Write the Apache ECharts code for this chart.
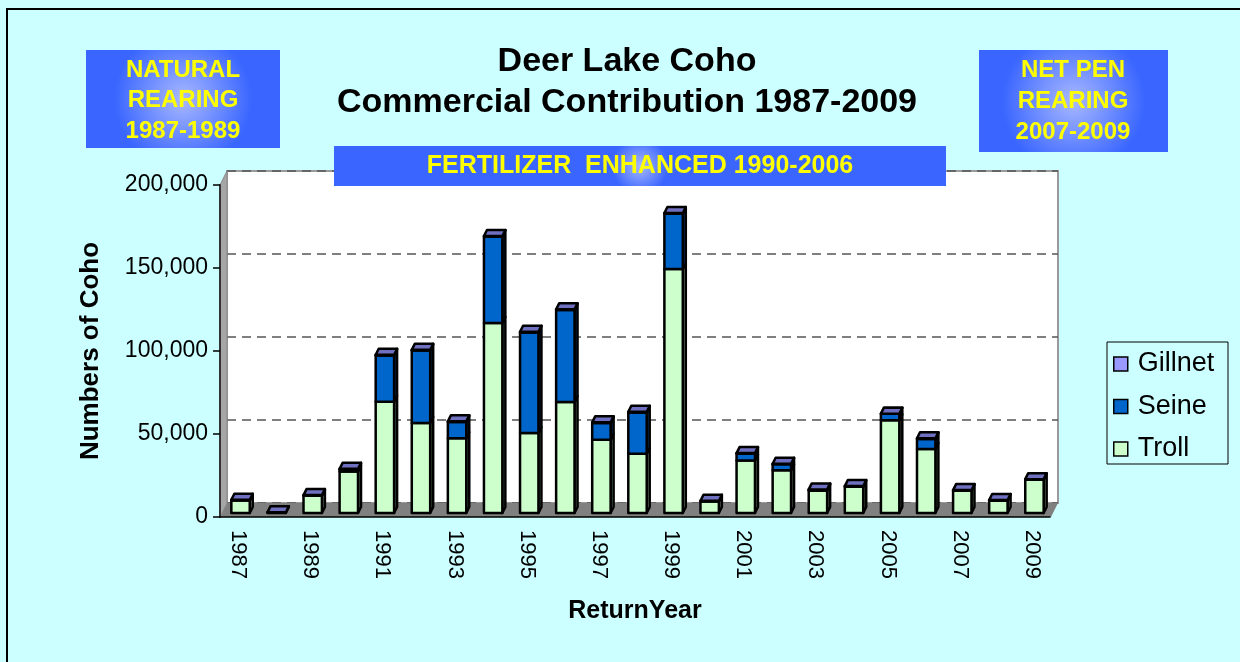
<!DOCTYPE html>
<html>
<head>
<meta charset="utf-8">
<style>
  html, body { margin: 0; padding: 0; background: #ccffff; }
  #container { width: 1240px; height: 662px; }
</style>
<script src="https://cdn.jsdelivr.net/npm/echarts@6/dist/echarts.min.js"></script>
</head>
<body>
<div id="container"></div>
<script>
var dom = document.getElementById('container');
var myChart = echarts.init(dom, null, { renderer: 'canvas' });

// data
var years = ['1987', '1988', '1989', '1990', '1991', '1992', '1993', '1994', '1995', '1996', '1997', '1998',
  '1999', '2000', '2001', '2002', '2003', '2004', '2005', '2006', '2007', '2008', '2009'];
var troll = [7600, 0, 10400, 25000, 67000, 54200, 45000, 114500, 48200, 66900, 44200, 35700,
  147000, 7000, 31700, 25700, 13400, 15800, 55800, 38600, 13400, 7400, 20000];
var seine = [0, 0, 0, 1200, 27900, 43700, 9800, 52000, 60600, 55400, 10000, 24900,
  33300, 0, 4000, 3600, 400, 0, 4000, 6000, 0, 0, 0];
var gillnet = [400, 400, 400, 400, 400, 400, 400, 400, 400, 400, 400, 400,
  400, 400, 400, 400, 400, 400, 0, 400, 400, 400, 400];
var yTicks = [0, 50000, 100000, 150000, 200000];

var seriesNames = ['Troll', 'Seine', 'Gillnet'];
var faceColors = ['#ccffcc', '#0066cc', '#9999ff'];
var sideColors = ['#7a997a', '#003d7a', '#5c5c99'];
var topColors = ['#a3cca3', '#00509f', '#7070c0'];
var stacks = [troll, seine, gillnet];

// 3d depth of the bars
var DX = 3, DY = -6;

function makeRender(k) {
  return function (params, api) {
    var i = params.dataIndex;
    var base = 0;
    for (var j = 0; j < k; j++) base += stacks[j][i];
    var v = stacks[k][i];
    var top = base + v;
    var above = 0;
    for (var j2 = k + 1; j2 < stacks.length; j2++) above += stacks[j2][i];
    var p0 = api.coord([i, base]);
    var p1 = api.coord([i, top]);
    var bw = api.size([1, 0])[0] * 0.51;
    var x0 = p0[0] - bw / 2, x1 = x0 + bw;
    var y0 = p0[1], y1 = p1[1];
    var st = { stroke: '#000', lineWidth: 2.5, lineJoin: 'round' };
    var kids = [];
    if (v > 0) {
      kids.push({
        type: 'polygon',
        shape: { points: [[x1, y0], [x1 + DX, y0 + DY], [x1 + DX, y1 + DY], [x1, y1]] },
        style: Object.assign({ fill: sideColors[k] }, st)
      });
      kids.push({
        type: 'rect',
        shape: { x: x0, y: y1, width: bw, height: y0 - y1 },
        style: Object.assign({ fill: faceColors[k] }, st)
      });
    }
    // top face on the highest segment
    if (above === 0 && (v > 0 || k === stacks.length - 1)) {
      kids.push({
        type: 'polygon',
        shape: { points: [[x0, y1], [x0 + DX, y1 + DY], [x1 + DX, y1 + DY], [x1, y1]] },
        style: Object.assign({ fill: topColors[k] }, st)
      });
    }
    return { type: 'group', children: kids };
  };
}

var series = [];
for (var k = 0; k < 3; k++) {
  series.push({
    type: 'custom',
    name: seriesNames[k],
    xAxisIndex: 0,
    yAxisIndex: 0,
    z: 5,
    clip: false,
    itemStyle: { color: faceColors[k] },
    renderItem: makeRender(k),
    data: stacks[k].map(function (v, i) { return [i, v]; })
  });
}
// empty series so the front axes and back wall get drawn
series.push({ type: 'bar', xAxisIndex: 1, yAxisIndex: 1, data: [], silent: true });
series.push({ type: 'line', xAxisIndex: 2, yAxisIndex: 2, data: [], silent: true });

function boxFill() {
  return {
    type: 'radial', x: 0.5, y: 0.5, r: 0.7,
    colorStops: [{ offset: 0, color: '#a8b8ff' }, { offset: 1, color: '#3a66ff' }]
  };
}
var FONT = '"Liberation Sans", Arial, sans-serif';
var boxText = { fill: '#ffff00', font: 'bold 24px ' + FONT, textAlign: 'center', textVerticalAlign: 'middle' };

option = {
  backgroundColor: '#ccffff',
  animation: false,
  grid: [
    // bars
    { left: 222.5, right: 187.5, top: 181, bottom: 149, show: false },
    // front axes
    { left: 220, right: 190, top: 185, bottom: 145, show: false },
    // back wall
    { left: 227, right: 182, top: 171, bottom: 159, show: true, backgroundColor: '#ffffff', borderColor: '#9a9a9a', borderWidth: 2, z: 0 }
  ],
  xAxis: [
    { gridIndex: 0, type: 'category', data: years, show: false },
    {
      gridIndex: 1, type: 'category', data: years, boundaryGap: true, z: 6,
      axisLine: { lineStyle: { color: '#000', width: 1.5 } },
      axisTick: { interval: 0, length: 7, lineStyle: { color: '#000', width: 1.5 } },
      axisLabel: { interval: 1, rotate: -90, margin: 13, fontSize: 22, color: '#000', fontFamily: FONT },
      name: 'ReturnYear', nameLocation: 'middle', nameGap: 82,
      nameTextStyle: { fontSize: 25, fontWeight: 'bold', color: '#000', fontFamily: FONT }
    },
    { gridIndex: 2, type: 'value', show: false, min: 0, max: 1 }
  ],
  yAxis: [
    { gridIndex: 0, type: 'value', min: 0, max: 200000, show: false },
    {
      gridIndex: 1, type: 'value', min: 0, max: 200000, interval: 50000, z: 6,
      axisLine: { show: true, lineStyle: { color: '#333', width: 2 } },
      axisTick: { show: true, length: 7, lineStyle: { color: '#000', width: 1.5 } },
      splitLine: { show: false },
      axisLabel: {
        fontSize: 23, color: '#000', margin: 12, fontFamily: FONT,
        formatter: function (v) { return yTicks.indexOf(v) >= 0 ? v.toLocaleString('en-US') : ''; }
      },
      name: 'Numbers of Coho', nameLocation: 'middle', nameGap: 116,
      nameTextStyle: { fontSize: 26, fontWeight: 'bold', color: '#000', fontFamily: FONT }
    },
    {
      gridIndex: 2, type: 'value', min: 0, max: 200000, interval: 50000,
      axisLine: { show: false }, axisTick: { show: false }, axisLabel: { show: false },
      splitLine: { show: true, lineStyle: { color: '#555', width: 1.5, type: [9, 6] } }
    }
  ],
  legend: {
    data: ['Gillnet', 'Seine', 'Troll'],
    orient: 'vertical',
    left: 1113, top: 350.5,
    padding: 0,
    icon: 'rect',
    itemWidth: 14, itemHeight: 14, itemGap: 15.5,
    itemStyle: { borderColor: '#000', borderWidth: 1.5 },
    textStyle: { fontSize: 27, lineHeight: 25, color: '#000', padding: [0, 0, 0, 5], fontFamily: FONT },
    selectedMode: false
  },
  graphic: [
    { type: 'rect', z: 0, silent: true, shape: { x: 7, y: 9, width: 1300, height: 700 }, style: { fill: 'none', stroke: '#000', lineWidth: 2 } },
    // floor and left wall
    { type: 'polygon', z: 1, silent: true, shape: { points: [[220, 517], [1051, 517], [1058, 503], [227, 503]] }, style: { fill: '#808080' } },
    { type: 'polygon', z: 1, silent: true, shape: { points: [[220, 185], [227, 171], [227, 503], [220, 517]] }, style: { fill: '#a6a6a6', stroke: '#8a8a8a', lineWidth: 1 } },
    // title
    { type: 'text', z: 10, silent: true, x: 627, y: 62,
      style: { text: 'Deer Lake Coho', fill: '#000', font: 'bold 34px ' + FONT, textAlign: 'center', textVerticalAlign: 'middle' } },
    { type: 'text', z: 10, silent: true, x: 627, y: 103,
      style: { text: 'Commercial Contribution 1987-2009', fill: '#000', font: 'bold 34px ' + FONT, textAlign: 'center', textVerticalAlign: 'middle' } },
    // notes
    { type: 'rect', z: 10, silent: true, shape: { x: 86, y: 50, width: 194, height: 98 }, style: { fill: boxFill() } },
    { type: 'text', z: 11, silent: true, x: 183, y: 70, style: Object.assign({ text: 'NATURAL' }, boxText) },
    { type: 'text', z: 11, silent: true, x: 183, y: 100, style: Object.assign({ text: 'REARING' }, boxText) },
    { type: 'text', z: 11, silent: true, x: 183, y: 131, style: Object.assign({ text: '1987-1989' }, boxText) },
    { type: 'rect', z: 10, silent: true, shape: { x: 979, y: 50, width: 189, height: 102 }, style: { fill: boxFill() } },
    { type: 'text', z: 11, silent: true, x: 1073, y: 70, style: Object.assign({ text: 'NET PEN' }, boxText) },
    { type: 'text', z: 11, silent: true, x: 1073, y: 101, style: Object.assign({ text: 'REARING' }, boxText) },
    { type: 'text', z: 11, silent: true, x: 1073, y: 132, style: Object.assign({ text: '2007-2009' }, boxText) },
    { type: 'rect', z: 10, silent: true, shape: { x: 334, y: 146, width: 612, height: 40 }, style: { fill: boxFill() } },
    { type: 'text', z: 11, silent: true, x: 640, y: 166, style: Object.assign({ text: 'FERTILIZER  ENHANCED 1990-2006' }, boxText, { font: 'bold 25px ' + FONT }) },
    // legend frame
    { type: 'rect', z: 10, silent: true, shape: { x: 1107, y: 342, width: 121, height: 122 }, style: { fill: 'none', stroke: '#000', lineWidth: 1 } }
  ],
  series: series
};

myChart.setOption(option);
window.addEventListener('resize', myChart.resize);
</script>
</body>
</html>
